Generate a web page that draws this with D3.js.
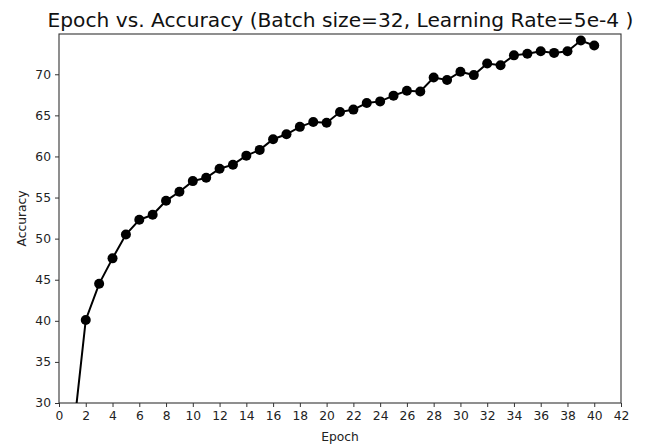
<!DOCTYPE html>
<html>
<head>
<meta charset="utf-8">
<script src="https://cdn.jsdelivr.net/npm/d3@7"></script>
<style>
  html, body { margin: 0; padding: 0; background: #fff; }
  svg { display: block; font-family: "DejaVu Sans", sans-serif; }
</style>
</head>
<body>
<svg id="chart" width="647" height="448"></svg>
<script>
// Validation accuracy per training epoch
const epochs = d3.range(1, 41);
const accuracy = [
  25.3, 40.1, 44.5, 47.6, 50.5, 52.3, 52.9, 54.6, 55.7, 57.0,
  57.4, 58.5, 59.0, 60.1, 60.8, 62.1, 62.7, 63.6, 64.2, 64.1,
  65.4, 65.7, 66.5, 66.7, 67.4, 68.0, 67.9, 69.6, 69.3, 70.3,
  69.9, 71.3, 71.1, 72.3, 72.5, 72.8, 72.6, 72.8, 74.1, 73.5
];
const xTicks = d3.range(0, 43, 2);
const yTicks = [30, 35, 40, 45, 50, 55, 60, 65, 70];

const title = "Epoch vs. Accuracy (Batch size=32, Learning Rate=5e-4 )";
const xLabel = "Epoch";
const yLabel = "Accuracy";

const svg = d3.select("#chart");
const margin = { top: 34, right: 26, bottom: 45, left: 59 };
const W = 647, H = 448;
const iw = W - margin.left - margin.right;
const ih = H - margin.top - margin.bottom;

const x = d3.scaleLinear().domain([0, 42]).range([0, iw]);
const y = d3.scaleLinear().domain([30, 74.9]).range([ih, 0]);

const g = svg.append("g").attr("transform", `translate(${margin.left},${margin.top})`);

svg.append("defs").append("clipPath").attr("id", "plot-clip")
  .append("rect").attr("width", iw).attr("height", ih);

// Axes
const xAxis = g.append("g").attr("transform", `translate(0,${ih})`)
  .call(d3.axisBottom(x).tickValues(xTicks).tickSize(4).tickPadding(4).tickFormat(d3.format("d")));
const yAxis = g.append("g")
  .call(d3.axisLeft(y).tickValues(yTicks).tickSize(4).tickPadding(4).tickFormat(d3.format("d")));

[xAxis, yAxis].forEach(a => {
  a.select(".domain").remove();
  a.selectAll("text").attr("font-size", 12.3).attr("fill", "#222").attr("font-family", "DejaVu Sans, sans-serif");
  a.selectAll("line").attr("stroke", "#333").attr("stroke-width", 1);
});

// Frame
g.append("rect").attr("width", iw).attr("height", ih)
  .attr("fill", "none").attr("stroke", "#333").attr("stroke-width", 1.1);

// Line and markers
const data = epochs.map((e, i) => ({ e, v: accuracy[i] }));
const plot = g.append("g").attr("clip-path", "url(#plot-clip)");
plot.append("path").datum(data)
  .attr("fill", "none").attr("stroke", "#000").attr("stroke-width", 2)
  .attr("d", d3.line().x(d => x(d.e)).y(d => y(d.v)));
plot.selectAll("circle").data(data).join("circle")
  .attr("cx", d => x(d.e)).attr("cy", d => y(d.v)).attr("r", 5).attr("fill", "#000");

// Titles
svg.append("text").attr("x", margin.left + iw / 2 + 0.5).attr("y", 26.5)
  .attr("text-anchor", "middle").attr("font-size", 20.2).attr("fill", "#111").text(title);
svg.append("text").attr("x", margin.left + iw / 2).attr("y", 441)
  .attr("text-anchor", "middle").attr("font-size", 12.3).attr("fill", "#222").text(xLabel);
svg.append("text")
  .attr("transform", `translate(26,${margin.top + ih / 2}) rotate(-90)`)
  .attr("text-anchor", "middle").attr("font-size", 12.3).attr("fill", "#222").text(yLabel);
</script>
</body>
</html>
